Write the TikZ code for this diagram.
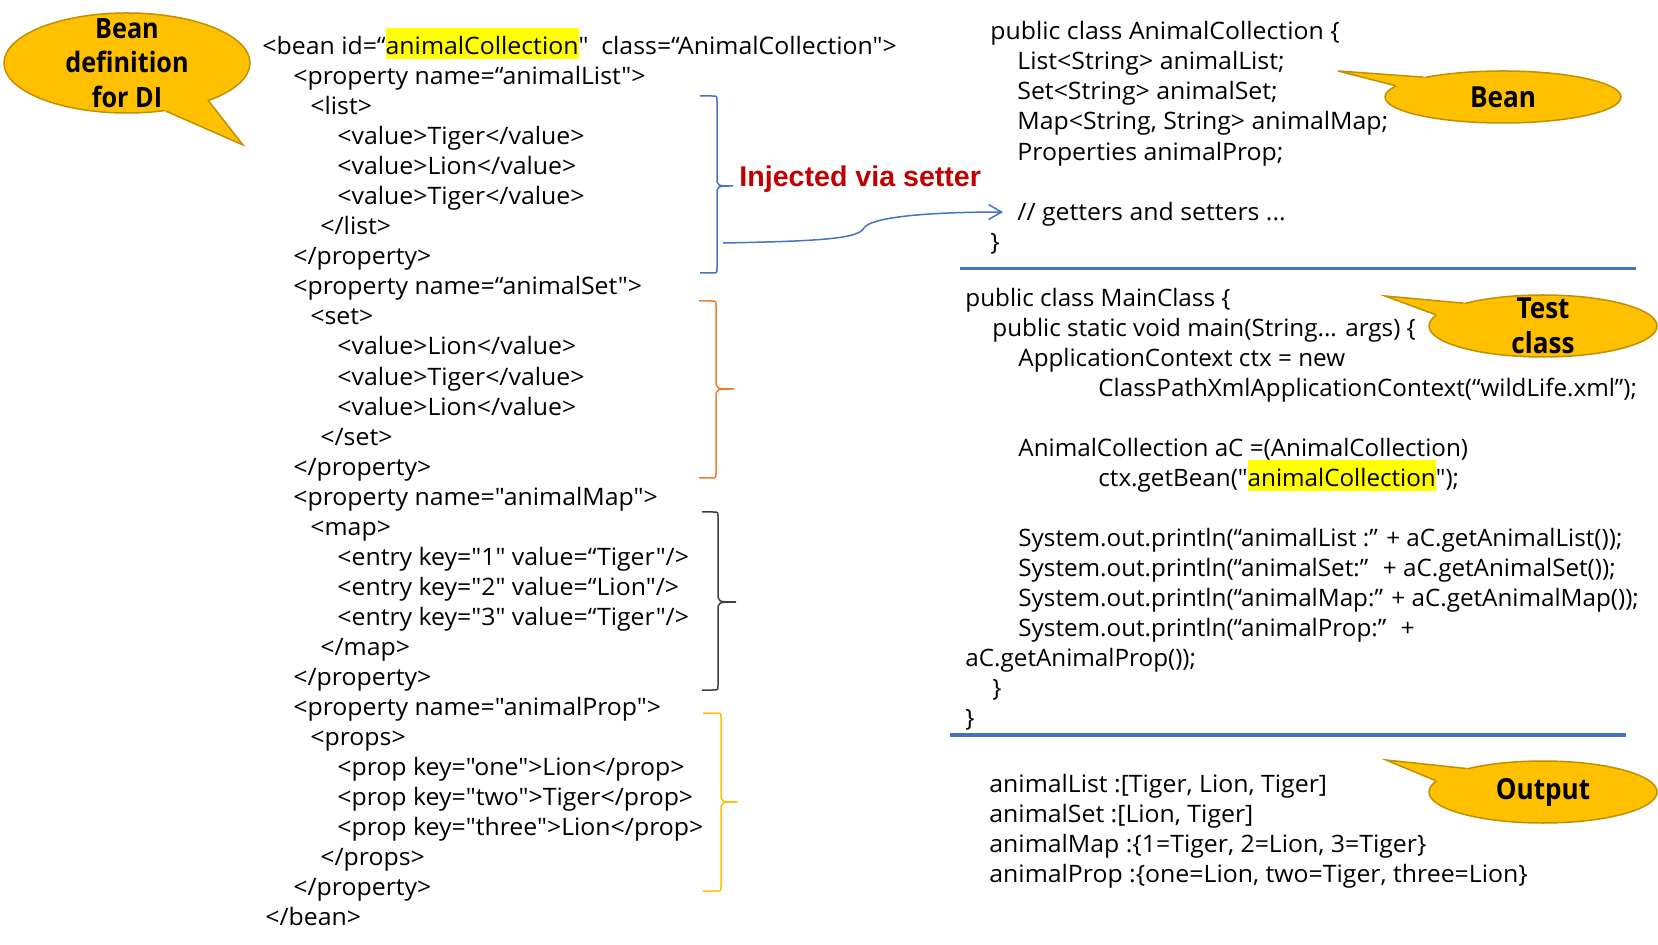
\documentclass[tikz,border=0pt]{standalone}
\usepackage{fontspec}
\usepackage{xcolor}
\usepackage{tikz}
\usetikzlibrary{shapes.geometric,arrows.meta}
\setmainfont{Open Sans}[Ligatures=TeXOff, FakeStretch=1.035]
\newfontfamily\javafont[Ligatures=TeXOff, FakeStretch=1.01]{Open Sans}
\newfontfamily\redfont{Liberation Sans}
\newfontfamily\balfont[FakeStretch=0.9]{Open Sans}
\definecolor{hlyellow}{HTML}{FFFF00}
\definecolor{setblue}{HTML}{4472C4}
\definecolor{setorange}{HTML}{ED7D31}
\definecolor{setgold}{HTML}{FFC000}
\definecolor{mapgray}{HTML}{404040}
\definecolor{balfill}{HTML}{FFC000}
\definecolor{baledge}{HTML}{BF9000}
\definecolor{injred}{HTML}{C00000}
\newcommand{\hilite}[1]{{\setlength{\fboxsep}{0pt}\colorbox{hlyellow}{\rule[-2.5pt]{0pt}{15.5pt}#1}}}

\begin{document}
\begin{tikzpicture}[x=0.5pt,y=-0.5pt,
  code/.style={anchor=base west, inner sep=0pt, font=\fontsize{12pt}{14pt}\selectfont},
  java/.style={code, font=\javafont\fontsize{12pt}{14pt}\selectfont},
  balloon/.style={ellipse, draw=baledge, fill=balfill, line width=0.75pt, inner sep=0pt},
  tail/.style={draw=baledge, line width=0.75pt},
  baltext/.style={align=center, inner sep=0pt, font=\balfont\bfseries\fontsize{14.5pt}{17.5pt}\selectfont},
  brace line/.style={line width=0.75pt},
  sepline/.style={draw=setblue, line width=1.75pt},
  setarrow/.style={draw=setblue, line width=0.75pt, -{Straight Barb[length=6.5pt,width=7.5pt]}}]
  \useasboundingbox (0,0) rectangle (1658,945);

  \node[code] (x1) at (262,54.5) {<bean id=“\hilite{animalCollection}"~ class=“AnimalCollection">};
  \node[code] (x2) at (293,84.55) {<property name=“animalList">};
  \node[code] (x3) at (310,114.6) {<list>};
  \node[code] (x4) at (337,144.65) {<value>Tiger</value>};
  \node[code] (x5) at (337,174.7) {<value>Lion</value>};
  \node[code] (x6) at (337,204.75) {<value>Tiger</value>};
  \node[code] (x7) at (320,234.8) {</list>};
  \node[code] (x8) at (293,264.85) {</property>};
  \node[code] (x9) at (293,294.9) {<property name=“animalSet">};
  \node[code] (x10) at (310,324.95) {<set>};
  \node[code] (x11) at (337,355.0) {<value>Lion</value>};
  \node[code] (x12) at (337,385.05) {<value>Tiger</value>};
  \node[code] (x13) at (337,415.1) {<value>Lion</value>};
  \node[code] (x14) at (320,445.15) {</set>};
  \node[code] (x15) at (293,475.2) {</property>};
  \node[code] (x16) at (293,505.25) {<property name="animalMap">};
  \node[code] (x17) at (310,535.3) {<map>};
  \node[code] (x18) at (337,565.35) {<entry key="1" value=“Tiger"/>};
  \node[code] (x19) at (337,595.4) {<entry key="2" value=“Lion"/>};
  \node[code] (x20) at (337,625.45) {<entry key="3" value=“Tiger"/>};
  \node[code] (x21) at (320,655.5) {</map>};
  \node[code] (x22) at (293,685.55) {</property>};
  \node[code] (x23) at (293,715.6) {<property name="animalProp">};
  \node[code] (x24) at (310,745.65) {<props>};
  \node[code] (x25) at (337,775.7) {<prop key="one">Lion</prop>};
  \node[code] (x26) at (337,805.75) {<prop key="two">Tiger</prop>};
  \node[code] (x27) at (337,835.8) {<prop key="three">Lion</prop>};
  \node[code] (x28) at (320,865.85) {</props>};
  \node[code] (x29) at (293,895.9) {</property>};
  \node[code] (x30) at (265,925.95) {</bean>};

  \node[code] (b1) at (990,39.7) {public class AnimalCollection \{};
  \node[code] (b2) at (1017,69.8) {List<String> animalList;};
  \node[code] (b3) at (1017,99.9) {Set<String> animalSet;};
  \node[code] (b4) at (1017,130) {Map<String, String> animalMap;};
  \node[code] (b5) at (1017,160.1) {Properties animalProp;};
  \node[code] (b6) at (1017,220.3) {// getters and setters ...};
  \node[code] (b7) at (990,250.4) {\}};

  \node[java] (m1) at (965,306.2) {public class MainClass \{};
  \node[java] (m2) at (992,336.2) {public static void main(String... args) \{};
  \node[java] (m3) at (1018,366.2) {ApplicationContext ctx = new};
  \node[java] (m4) at (1098,396.2) {ClassPathXmlApplicationContext(“wildLife.xml”);};
  \node[java] (m5) at (1018,456.2) {AnimalCollection aC =(AnimalCollection)};
  \node[java] (m6) at (1098,486.2) {ctx.getBean("\hilite{animalCollection}");};
  \node[java] (m7) at (1018,546.2) {System.out.println(“animalList :” + aC.getAnimalList());};
  \node[java] (m8) at (1018,576.2) {System.out.println(“animalSet:”~ + aC.getAnimalSet());};
  \node[java] (m9) at (1018,606.2) {System.out.println(“animalMap:” + aC.getAnimalMap());};
  \node[java] (m10) at (1018,636.2) {System.out.println(“animalProp:”~ +};
  \node[java] (m11) at (965,666.2) {aC.getAnimalProp());};
  \node[java] (m12) at (992,696.2) {\}};
  \node[java] (m13) at (965,726.2) {\}};

  \node[code] (o1) at (989,792.6) {animalList :[Tiger, Lion, Tiger]};
  \node[code] (o2) at (989,822.7) {animalSet :[Lion, Tiger]};
  \node[code] (o3) at (989,852.8) {animalMap :\{1=Tiger, 2=Lion, 3=Tiger\}};
  \node[code] (o4) at (989,882.9) {animalProp :\{one=Lion, two=Tiger, three=Lion\}};

  \draw[sepline] (960,268.6) -- (1636,268.6);
  \draw[sepline] (950,735) -- (1626,735);

  \draw[brace line, setblue] (700,96) -- (712,96) .. controls (717,96) .. (717,101) -- (717,177) .. controls (717,186) .. (733,186) .. controls (717,186) .. (717,195) -- (717,268) .. controls (717,273) .. (712,273) -- (700,273);
  \draw[brace line, setorange] (699,301) -- (711,301) .. controls (716,301) .. (716,306) -- (716,380) .. controls (716,389) .. (734,389) .. controls (716,389) .. (716,398) -- (716,473) .. controls (716,478) .. (711,478) -- (699,478);
  \draw[brace line, mapgray] (702,512) -- (713,512) .. controls (718,512) .. (718,517) -- (718,593) .. controls (718,602) .. (736,602) .. controls (718,602) .. (718,611) -- (718,685) .. controls (718,690) .. (713,690) -- (702,690);
  \draw[brace line, setgold] (703,713) -- (716,713) .. controls (721,713) .. (721,718) -- (721,793) .. controls (721,802) .. (738,802) .. controls (721,802) .. (721,811) -- (721,886) .. controls (721,891) .. (716,891) -- (703,891);

  \node[anchor=base west, inner sep=0pt, text=injred, font=\redfont\bfseries\fontsize{14.3pt}{17pt}\selectfont] (injLbl) at (739,186.7) {Injected via setter};
  \coordinate (setFrom) at (723,243);
  \draw[setarrow] (setFrom) .. controls (830,241) and (858,238) .. (864,228) .. controls (870,218) and (920,212) .. ([xshift=-7pt,yshift=1pt]b6.west);

  \node[balloon, minimum width=123pt, minimum height=50pt] (bdi) at (127,63) {};
  \coordinate (bdiTip) at (243,145);
  \fill[balfill] (bdi.center) -- (bdi.-25) -- (bdiTip) -- (bdi.-51) -- cycle;
  \draw[tail] (bdi.-25) -- (bdiTip) -- (bdi.-51);
  \node[baltext, font=\balfont\bfseries\fontsize{14pt}{17.25pt}\selectfont] (bdiTxt) at (bdi.center) {Bean\\definition\\for DI};

  \node[balloon, minimum width=118pt, minimum height=26pt] (bean) at (1503,97) {};
  \coordinate (beanTip) at (1338,71);
  \fill[balfill] (bean.center) -- (bean.166) -- (beanTip) -- (bean.174) -- cycle;
  \draw[tail] (bean.166) -- (beanTip) -- (bean.174);
  \node[baltext] (beanTxt) at (bean.center) {Bean};

  \node[balloon, minimum width=114pt, minimum height=31pt] (test) at (1543,326) {};
  \coordinate (testTip) at (1385,296);
  \fill[balfill] (test.center) -- (test.164) -- (testTip) -- (test.174) -- cycle;
  \draw[tail] (test.164) -- (testTip) -- (test.174);
  \node[baltext] (testTxt) at (test.center) {Test\\class};

  \node[balloon, minimum width=114pt, minimum height=31pt] (out) at (1543,792) {};
  \coordinate (outTip) at (1386,760);
  \fill[balfill] (out.center) -- (out.163) -- (outTip) -- (out.174) -- cycle;
  \draw[tail] (out.163) -- (outTip) -- (out.174);
  \node[baltext] (outTxt) at (out.center) {Output};
\end{tikzpicture}
\end{document}
